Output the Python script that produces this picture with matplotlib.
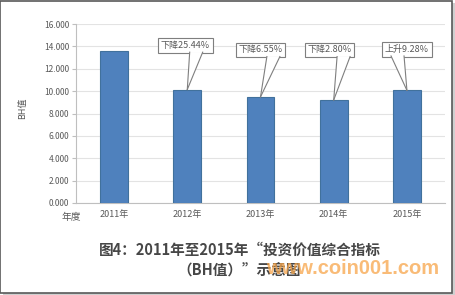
import matplotlib
matplotlib.use("Agg")
import matplotlib.pyplot as plt
from matplotlib.patches import Rectangle, Polygon
from matplotlib.lines import Line2D
from matplotlib.transforms import IdentityTransform

plt.rcParams['font.family'] = ['Noto Sans CJK SC', 'DejaVu Sans']

years = ["2011年", "2012年", "2013年", "2014年", "2015年"]
bh_values = [13.60, 10.14, 9.48, 9.21, 10.07]
callout_texts = ["", "下降25.44%", "下降6.55%", "下降2.80%", "上升9.28%"]
y_ticks = [0, 2, 4, 6, 8, 10, 12, 14, 16]

W, H = 456, 295
fig = plt.figure(figsize=(W / 100, H / 100), dpi=100)
ax = fig.add_axes([76 / W, 1 - 203 / H, 369 / W, 179 / H])

x = list(range(len(years)))
ax.bar(x, bh_values, width=0.38, color="#4F81BD", edgecolor="#41719C",
       linewidth=0.8, zorder=3)

ax.set_xlim(-0.52, 4.52)
ax.set_ylim(0, 16)
ax.set_yticks(y_ticks)
ax.set_yticklabels([f"{v:.3f}" for v in y_ticks])
ax.set_xticks(x)
ax.set_xticklabels(years)
ax.tick_params(axis="y", length=3, width=0.8, color="#BFBFBF", labelsize=6,
               labelcolor="#595959", pad=2)
ax.tick_params(axis="x", length=0, labelsize=6.5, labelcolor="#595959", pad=5)
ax.grid(axis="y", color="#E3E3E3", linewidth=0.8, zorder=0)
for s in ["top", "right"]:
    ax.spines[s].set_visible(False)
for s in ["left", "bottom"]:
    ax.spines[s].set_color("#BFBFBF")
    ax.spines[s].set_linewidth(0.8)

# callout boxes: centre offset (pixels) from bar top, wedge base position in box
offsets = [None, (-2, 44), (0, 47), (-4, 50), (0, 41)]
base_rel = [None, 0.70, 0.76, 0.78, 0.31]
anns = {}
for i, txt in enumerate(callout_texts):
    if not txt:
        continue
    anns[i] = ax.annotate(txt, xy=(i, bh_values[i]), xytext=offsets[i],
                          textcoords="offset pixels", ha="center", va="center",
                          fontsize=6.5, color="#595959", zorder=5,
                          bbox=dict(boxstyle="square,pad=0.3", fc="white",
                                    ec="#7F7F7F", lw=0.8))

fig.canvas.draw()
half = 6.5
for i, ann in anns.items():
    bb = ann.get_bbox_patch().get_window_extent()
    tx, ty = ax.transData.transform((i, bh_values[i]))
    bx = bb.x0 + base_rel[i] * bb.width
    by = bb.y0 + 0.6
    left, right = (bx - half, by), (bx + half, by)
    ax.add_patch(Polygon([left, right, (tx, ty)], closed=True,
                         transform=IdentityTransform(), fc="white", ec="none",
                         zorder=6, clip_on=False))
    for p in (left, right):
        ax.add_line(Line2D([p[0], tx], [p[1], ty], transform=IdentityTransform(),
                           color="#7F7F7F", lw=0.8, zorder=7, clip_on=False))

fig.text(23 / W, 1 - 108 / H, "BH值", rotation=90, ha="center", va="center",
         fontsize=6.5, color="#595959")
fig.text(71 / W, 1 - 217 / H, "年度", ha="center", va="center",
         fontsize=7, color="#595959")

fig.text(240 / W, 1 - 250 / H, "图4：2011年至2015年“投资价值综合指标",
         ha="center", va="center", fontsize=10.5, fontweight="bold",
         color="#474747")
fig.text(239 / W, 1 - 271 / H, "（BH值）”示意图",
         ha="center", va="center", fontsize=10.5, fontweight="bold",
         color="#474747")
fig.text(353 / W, 1 - 268 / H, "www.coin001.com", ha="center", va="center",
         fontsize=14.5, fontweight="bold", color="#F7A54A", alpha=0.75,
         family=["Liberation Sans", "DejaVu Sans"])

# outer frame with soft shadow
fig.patches.append(Rectangle((3 / W, 0), 453 / W, 292 / H, transform=fig.transFigure,
                             fc="#D0D0D0", ec="none", zorder=-2))
fig.patches.append(Rectangle((0.5 / W, 2 / H), 452 / W, 292.5 / H,
                             transform=fig.transFigure, fc="white",
                             ec="#595959", lw=1.2, zorder=-1))

fig.savefig("out.png", dpi=100)
